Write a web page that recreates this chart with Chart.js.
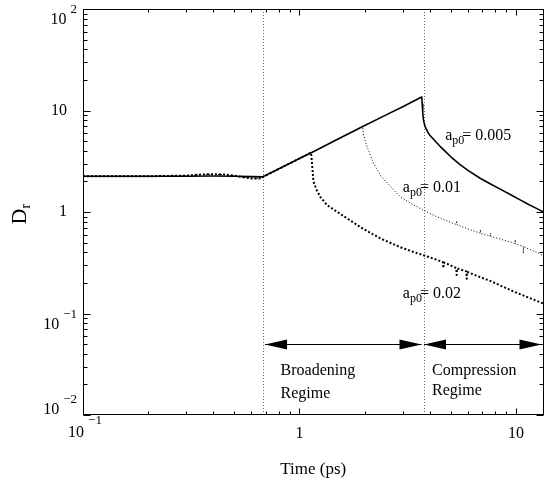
<!DOCTYPE html>
<html><head><meta charset="utf-8">
<script src="https://cdn.jsdelivr.net/npm/chart.js@4.4.1/dist/chart.umd.min.js"></script>
<style>html,body{margin:0;padding:0;background:#fff;}canvas{display:block;}</style>
</head><body>
<canvas id="c" width="545" height="481"></canvas>
<script>
// ---- data ----
const xTickValues = [0.1, 1, 10];
const xTickLabels = [['10','\u22121'], ['1',''], ['10','']];
const yTickValues = [0.01, 0.1, 1, 10, 100];
const yTickLabels = [['10','\u22122'], ['10','\u22121'], ['1',''], ['10',''], ['10','2']];
const xRange = [0.1, 13.4];
const yRange = [0.01, 100];
const seriesNames = ['0.005', '0.01', '0.02'];
const regimeBounds = [0.675, 3.76];
const regimeNames = [['Broadening','Regime'], ['Compression','Regime']];
const arrowLevel = 0.05;
const xTitle = 'Time (ps)';
const yTitle = ['D', 'r'];
const labelAnchors = [[4.71, 5.1], [3.0, 1.575], [3.0, 0.143]];

const t1 = [0.1,0.15,0.2,0.3,0.4,0.5,0.6,0.675,0.8,1.0,1.14,1.5,1.96,2.5,3.0,3.5,3.67,3.69,3.71,3.74,3.8,3.9,4.0,4.2,4.5,5.0,5.5,6.0,6.83,7.59,8.5,9.5,10.5,11.5,12.5,13.4];
const d1 = [2.25,2.25,2.25,2.25,2.26,2.25,2.23,2.22,2.65,3.37,3.86,5.2,6.95,9.0,10.9,12.9,13.6,11.5,9.5,8.0,7.0,6.2,5.7,5.1,4.35,3.5,2.95,2.57,2.15,1.9,1.67,1.47,1.31,1.18,1.08,1.0];

const t2 = [0.1,0.2,0.3,0.35,0.4,0.45,0.5,0.55,0.6,0.65,0.675,0.8,1.0,1.14,1.5,1.96,1.97,2.05,2.2,2.4,2.92,3.3,3.74,4.3,5.14,5.3,5.32,5.34,6.0,6.83,6.85,6.87,7.6,7.62,7.64,8.0,9.0,9.9,9.92,9.94,10.8,10.82,10.84,11.5,12.5,13.4];
const d2 = [2.25,2.25,2.28,2.33,2.35,2.33,2.27,2.2,2.15,2.14,2.2,2.65,3.37,3.86,5.2,6.95,5.9,4.4,3.0,2.2,1.41,1.2,1.04,0.9,0.77,0.755,0.82,0.75,0.68,0.62,0.67,0.615,0.58,0.62,0.575,0.56,0.52,0.49,0.535,0.485,0.46,0.39,0.455,0.43,0.4,0.37];

const t3 = [0.1,0.2,0.3,0.35,0.4,0.45,0.5,0.55,0.6,0.65,0.675,0.8,1.0,1.13,1.14,1.16,1.2,1.25,1.34,1.54,1.91,2.36,2.92,3.3,3.74,4.2,4.6,4.62,4.64,4.79,5.3,5.32,5.34,5.9,5.92,5.94,6.83,7.59,9.73,11.5,13.4];
const d3 = [2.25,2.25,2.28,2.34,2.36,2.34,2.28,2.2,2.14,2.13,2.2,2.65,3.37,3.85,3.2,2.0,1.65,1.4,1.17,0.96,0.71,0.55,0.45,0.41,0.375,0.345,0.32,0.28,0.318,0.31,0.28,0.24,0.278,0.26,0.22,0.258,0.228,0.21,0.165,0.143,0.125];

const pts = (t, d) => t.map((v, i) => ({x: v, y: d[i]}));
const SERIF = '"Liberation Serif", "DejaVu Serif", serif';

const overlay = {
  id: 'overlay',
  beforeDatasetsDraw(chart) {
    const {ctx, chartArea: a, scales: {x}} = chart;
    ctx.save();
    ctx.strokeStyle = '#666'; ctx.lineWidth = 1; ctx.setLineDash([1, 2]);
    regimeBounds.forEach(v => {
      const px = Math.round(x.getPixelForValue(v)) + 0.5;
      ctx.beginPath(); ctx.moveTo(px, a.top); ctx.lineTo(px, a.bottom); ctx.stroke();
    });
    ctx.restore();
  },
  afterDraw(chart) {
    const {ctx, chartArea: a, scales: {x, y}} = chart;
    ctx.save();
    ctx.fillStyle = '#000'; ctx.strokeStyle = '#000'; ctx.lineWidth = 1; ctx.setLineDash([]);
    const L = Math.round(a.left) + 0.5, R = Math.round(a.right) - 0.5, T = Math.round(a.top) + 0.5, B = Math.round(a.bottom) - 0.5;
    ctx.strokeRect(L, T, R - L, B - T);
    const tick = (vals, isX, len) => {
      vals.forEach(v => {
        if (isX) {
          const p = Math.round(x.getPixelForValue(v)) + 0.5;
          if (p < a.left - 1 || p > a.right + 1) return;
          ctx.beginPath(); ctx.moveTo(p, B); ctx.lineTo(p, B - len); ctx.moveTo(p, T); ctx.lineTo(p, T + len); ctx.stroke();
        } else {
          const p = Math.round(y.getPixelForValue(v)) + 0.5;
          if (p < a.top - 1 || p > a.bottom + 1) return;
          ctx.beginPath(); ctx.moveTo(L, p); ctx.lineTo(L + len, p); ctx.moveTo(R, p); ctx.lineTo(R - len, p); ctx.stroke();
        }
      });
    };
    const minors = (lo, hi) => { const out = []; for (let e = Math.floor(Math.log10(lo)); e <= Math.ceil(Math.log10(hi)); e++) for (let k = 2; k <= 9; k++) { const v = k * Math.pow(10, e); if (v > lo && v < hi) out.push(v); } return out; };
    tick(xTickValues, true, 6); tick(minors(xRange[0], xRange[1]), true, 3);
    tick(yTickValues, false, 7); tick(minors(yRange[0], yRange[1]), false, 4);
    ctx.textBaseline = 'middle';
    xTickValues.forEach((v, i) => {
      const [base, ex] = xTickLabels[i];
      const px = x.getPixelForValue(v);
      ctx.font = '16px ' + SERIF;
      const wb = ctx.measureText(base).width;
      if (!ex) { ctx.textAlign = 'center'; ctx.fillText(base, px, 434); return; }
      ctx.font = '13px ' + SERIF;
      const we = ctx.measureText(ex).width;
      const left = px + 2 - (wb + 4 + we) / 2;
      ctx.textAlign = 'left';
      ctx.font = '16px ' + SERIF; ctx.fillText(base, left, 433);
      ctx.font = '13px ' + SERIF; ctx.fillText(ex, left + wb + 4, 421);
    });
    yTickValues.forEach((v, i) => {
      const [base, ex] = yTickLabels[i];
      const py = y.getPixelForValue(v);
      ctx.font = '16px ' + SERIF;
      if (!ex) { ctx.textAlign = 'right'; ctx.fillText(base, 67, py); return; }
      const wb = ctx.measureText(base).width;
      ctx.font = '13px ' + SERIF;
      const we = ctx.measureText(ex).width;
      let by = Math.min(py + 11, a.bottom - 5);
      const ey = by - 10;
      const left = 77 - (wb + 4 + we);
      ctx.textAlign = 'left';
      ctx.font = '16px ' + SERIF; ctx.fillText(base, left, by);
      ctx.font = '13px ' + SERIF; ctx.fillText(ex, left + wb + 4, ey);
    });
    ctx.font = '17px ' + SERIF; ctx.textAlign = 'center'; ctx.textBaseline = 'middle';
    ctx.fillText(xTitle, (a.left + a.right) / 2, 470);
    ctx.save();
    ctx.translate(20, 213); ctx.rotate(-Math.PI / 2);
    ctx.font = '22px ' + SERIF; ctx.textAlign = 'left'; ctx.textBaseline = 'middle';
    const wD = ctx.measureText(yTitle[0]).width;
    const tw = wD + 7;
    ctx.fillText(yTitle[0], -tw / 2, 0);
    ctx.font = '14px ' + SERIF;
    ctx.fillText(yTitle[1], -tw / 2 + wD, 6);
    ctx.restore();
    const ay = Math.round(y.getPixelForValue(arrowLevel)) + 0.5;
    const b1 = x.getPixelForValue(regimeBounds[0]), b2 = x.getPixelForValue(regimeBounds[1]);
    const arrow = (x0, x1) => {
      ctx.beginPath(); ctx.moveTo(x0, ay); ctx.lineTo(x1, ay); ctx.stroke();
      const hl = 22, hw = 5;
      ctx.beginPath(); ctx.moveTo(x0, ay); ctx.lineTo(x0 + hl, ay - hw); ctx.lineTo(x0 + hl, ay + hw); ctx.closePath(); ctx.fill();
      ctx.beginPath(); ctx.moveTo(x1, ay); ctx.lineTo(x1 - hl, ay - hw); ctx.lineTo(x1 - hl, ay + hw); ctx.closePath(); ctx.fill();
    };
    arrow(b1 + 2.5, b2 - 2.5);
    arrow(b2 + 0, a.right - 2);
    ctx.font = '16px ' + SERIF; ctx.textAlign = 'left'; ctx.textBaseline = 'alphabetic';
    ctx.fillText(regimeNames[0][0], b1 + 18, ay + 30);
    ctx.fillText(regimeNames[0][1], b1 + 18, ay + 53);
    ctx.fillText(regimeNames[1][0], b2 + 8, ay + 30);
    ctx.fillText(regimeNames[1][1], b2 + 8, ay + 50);
    labelAnchors.forEach((p, i) => {
      const px = x.getPixelForValue(p[0]), py = y.getPixelForValue(p[1]);
      ctx.font = '16px ' + SERIF; ctx.fillText('a', px, py);
      const w = ctx.measureText('a').width;
      ctx.font = '12px ' + SERIF; ctx.fillText('p0', px + w, py + 4);
      const w2 = ctx.measureText('p0').width;
      ctx.font = '16px ' + SERIF; ctx.fillText('= ' + seriesNames[i], px + w + w2 - 2, py);
    });
    ctx.restore();
  }
};

new Chart(document.getElementById('c'), {
  type: 'scatter',
  data: {
    datasets: [
      {label: seriesNames[0], data: pts(t1, d1), showLine: true, borderColor: '#000', borderWidth: 1.6, pointRadius: 0, borderJoinStyle: 'round'},
      {label: seriesNames[1], data: pts(t2, d2), showLine: true, borderColor: '#000', borderWidth: 1, borderDash: [1, 2], pointRadius: 0, borderJoinStyle: 'round'},
      {label: seriesNames[2], data: pts(t3, d3), showLine: true, borderColor: '#000', borderWidth: 2, borderDash: [2, 2], pointRadius: 0, borderJoinStyle: 'round'}
    ]
  },
  options: {
    responsive: false, animation: false, devicePixelRatio: 1,
    layout: {padding: {left: 83, right: 1.5, top: 9, bottom: 66}},
    plugins: {legend: {display: false}, tooltip: {enabled: false}},
    scales: {
      x: {type: 'logarithmic', min: xRange[0], max: xRange[1], display: false},
      y: {type: 'logarithmic', min: yRange[0], max: yRange[1], display: false}
    }
  },
  plugins: [overlay]
});
</script>
</body></html>
